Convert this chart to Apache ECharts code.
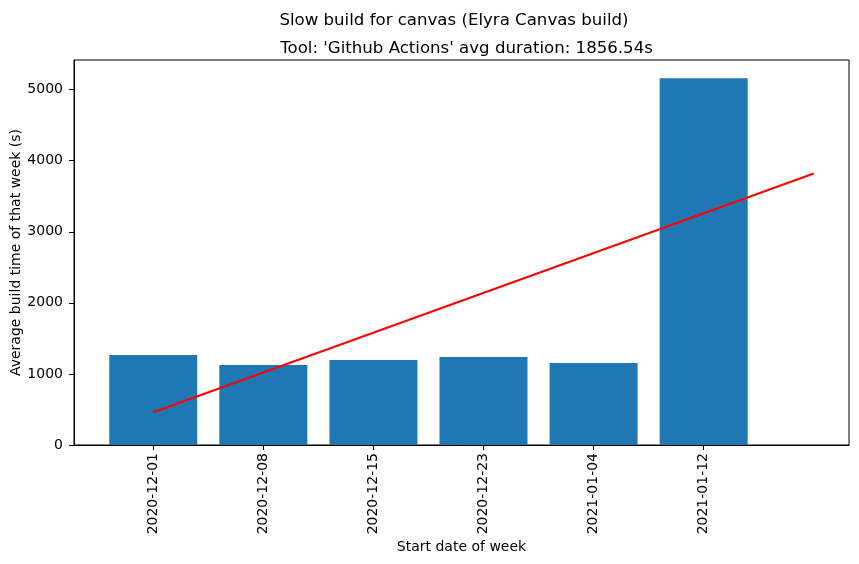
<!DOCTYPE html>
<html><head><meta charset="utf-8">
<script src="https://cdn.jsdelivr.net/npm/echarts@6/dist/echarts.min.js"></script>
<style>html,body{margin:0;padding:0;background:#fff}#c{width:859px;height:564px}</style>
</head><body><div id="c"></div>
<script>
const weeks = ['2020-12-01','2020-12-08','2020-12-15','2020-12-23','2021-01-04','2021-01-12'];
const buildTimes = [1268, 1127, 1197, 1239, 1155, 5159];
const trendX = [0, 6];
const trendY = [460, 3820];
const yTicks = [0, 1000, 2000, 3000, 4000, 5000];
const xTicks = [0, 1, 2, 3, 4, 5];

const chart = echarts.init(document.getElementById('c'), null, {renderer: 'canvas'});
const font = 'DejaVu Sans';
chart.setOption({
  animation: false,
  backgroundColor: '#fff',
  title: [
    {text: 'Slow build for canvas (Elyra Canvas build)', left: 449, top: 7, textAlign: 'center',
     textStyle: {fontFamily: font, fontSize: 16.6, fontWeight: 'normal', color: '#000'}},
    {text: "Tool: 'Github Actions' avg duration: 1856.54s", left: 461.5, top: 35, textAlign: 'center',
     textStyle: {fontFamily: font, fontSize: 16.6, fontWeight: 'normal', color: '#000'}}
  ],
  grid: {left: 74, right: 10, top: 60, bottom: 119, containLabel: false, outerBoundsMode: 'none',
    show: true, borderColor: '#000', borderWidth: 1, backgroundColor: 'transparent'},
  xAxis: {
    type: 'value', min: -0.72, max: 6.32,
    name: 'Start date of week', nameLocation: 'middle', nameGap: 95, nameMoveOverlap: false,
    nameTextStyle: {fontFamily: font, fontSize: 14, color: '#000'},
    splitLine: {show: false},
    axisLine: {show: true, onZero: false, lineStyle: {color: '#000', width: 1}},
    axisTick: {show: true, length: 5, lineStyle: {color: '#000'}, customValues: xTicks},
    axisLabel: {show: true, rotate: 90, margin: 8, fontFamily: font, fontSize: 14, color: '#000',
      customValues: xTicks, formatter: v => weeks[Math.round(v)] || ''}
  },
  yAxis: {
    type: 'value', min: 0, max: 5417,
    name: 'Average build time of that week (s)', nameLocation: 'middle', nameGap: 51, nameMoveOverlap: false,
    nameTextStyle: {fontFamily: font, fontSize: 14, color: '#000'},
    splitLine: {show: false},
    axisLine: {show: true, onZero: false, lineStyle: {color: '#000', width: 1}},
    axisTick: {show: true, length: 5, lineStyle: {color: '#000'}, customValues: yTicks},
    axisLabel: {show: true, margin: 11, fontFamily: font, fontSize: 14, color: '#000', customValues: yTicks,
      formatter: v => String(v)}
  },
  series: [
    {type: 'bar', data: buildTimes.map((v, i) => [i, v]), barWidth: 88,
     itemStyle: {color: '#1f77b4'}},
    {type: 'line', data: trendX.map((x, i) => [x, trendY[i]]), symbol: 'none',
     lineStyle: {color: '#ff0000', width: 2}, z: 5}
  ]
});
</script></body></html>
